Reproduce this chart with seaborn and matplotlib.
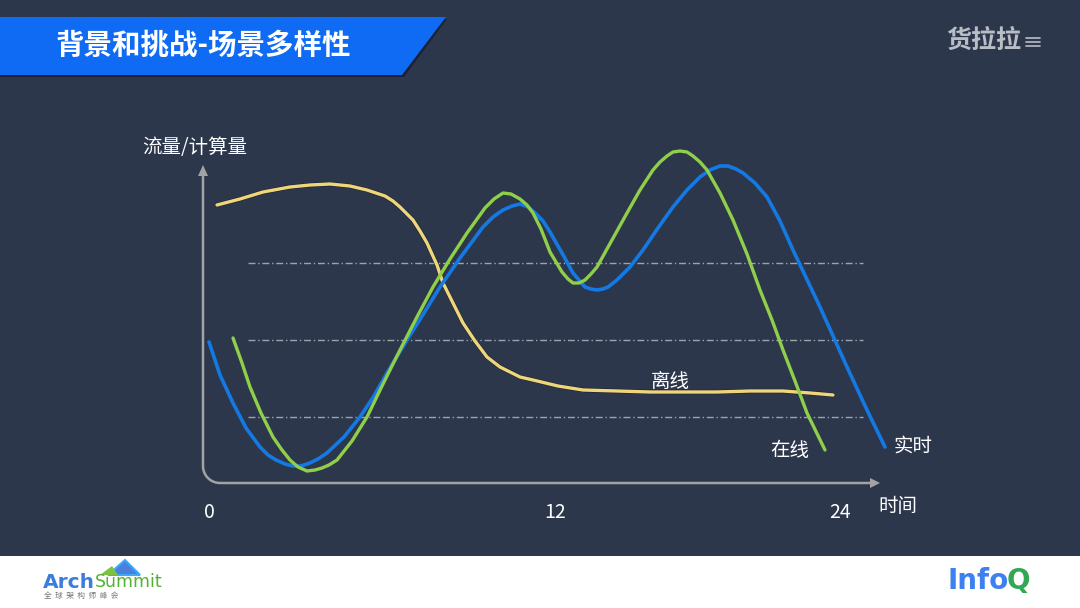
import numpy as np
import seaborn as sns
import matplotlib.pyplot as plt
from matplotlib.patches import Polygon, Rectangle

# 曲线数据 (画面坐标: x 向右, y 向下)
realtime_x = [209, 220, 233, 246, 260, 268, 276, 285, 293, 301, 310, 318, 327, 344, 360,
              374, 387, 407, 424, 440, 460, 483, 493, 503, 512, 520, 528, 535, 543, 550,
              562, 573, 585, 591, 597, 603, 608, 617, 630, 643, 658, 673, 687, 700, 710,
              720, 728, 736, 743, 755, 767, 780, 793, 820, 847, 867, 885]
realtime_y = [342, 375, 403, 428, 447, 455, 460, 464, 466, 466, 463, 459, 453, 437, 417,
              396, 373, 340, 313, 287, 258, 227, 217, 210, 206, 204, 207, 213, 221, 232,
              253, 273, 287, 289, 290, 289, 287, 280, 267, 250, 228, 207, 190, 177, 170,
              166, 166, 169, 173, 183, 197, 221, 250, 307, 367, 410, 447]

online_x = [233, 242, 250, 261, 273, 282, 290, 298, 307, 315, 322, 329, 337, 352, 367,
            383, 400, 417, 433, 450, 467, 485, 494, 503, 511, 520, 527, 533, 541, 550,
            562, 568, 573, 579, 585, 591, 597, 612, 627, 640, 653, 660, 667, 673, 680,
            687, 693, 700, 707, 720, 733, 747, 760, 772, 783, 795, 807, 825]
online_y = [338, 363, 387, 413, 437, 450, 460, 467, 471, 470, 468, 465, 460, 441, 417,
            384, 350, 317, 287, 259, 233, 208, 199, 193, 194, 199, 205, 213, 229, 252,
            272, 279, 283, 283, 280, 274, 267, 240, 213, 190, 170, 162, 156, 152, 151,
            152, 156, 162, 170, 193, 220, 254, 290, 320, 350, 381, 413, 450]

offline_x = [217, 240, 263, 290, 310, 330, 350, 367, 385, 393, 400, 406, 413, 420, 427,
             437, 443, 453, 463, 475, 487, 500, 520, 533, 558, 583, 617, 650, 683, 717,
             750, 783, 810, 833]
offline_y = [205, 199, 192, 187, 185, 184, 186, 190, 196, 201, 207, 213, 220, 231, 243,
             265, 283, 303, 323, 341, 357, 367, 377, 380, 386, 390, 391, 392, 392, 392,
             391, 391, 393, 395]

grid_levels = [263, 340, 417]
tick_labels = ["0", "12", "24"]
tick_x = [209, 555, 840]

BG = "#2d374c"
FONT = ["Noto Sans CJK SC", "DejaVu Sans"]


def set_config():
    sns.set_theme(style="white")
    plt.rcParams["font.family"] = FONT


def draw_frame(ax):
    # 标题栏
    ax.add_patch(Polygon([[0, 19], [447, 19], [404, 77], [0, 77]], closed=True,
                         facecolor="#1a2233", edgecolor="none", zorder=1))
    ax.add_patch(Polygon([[0, 17], [446, 17], [402, 75], [0, 75]], closed=True,
                         facecolor="#0f6bf3", edgecolor="none", zorder=2))
    ax.text(55, 46, "背景和挑战-场景多样性", color="white", fontsize=20.5,
            fontweight="bold", va="center", ha="left", zorder=3)

    # 右上角 logo
    ax.text(946, 42, "货拉拉", color="#b9bdc6", fontsize=18, fontweight="heavy",
            va="center", ha="left")
    for dy in (-4, 0, 4):
        ax.plot([1026, 1040], [42 + dy, 42 + dy], color="#b9bdc6", lw=1.2)

    # 底部白条
    ax.add_patch(Rectangle((0, 556), 1080, 52, facecolor="white", edgecolor="none"))
    ax.add_patch(Polygon([[108, 575], [125, 560], [140, 575]], closed=True,
                         facecolor="#4a7fe0", edgecolor="#3fa9f5", lw=1.5))
    ax.add_patch(Polygon([[100, 575], [112, 566], [118, 575]], closed=True,
                         facecolor="#7cc242", edgecolor="none"))
    ax.text(43, 582, "Arch", color="#3b7ddd", fontsize=14.5, fontweight="bold",
            va="center", ha="left", family="DejaVu Sans")
    ax.text(95, 582, "Summit", color="#52b332", fontsize=12.5,
            va="center", ha="left", family="DejaVu Sans")
    ax.text(44, 596, "全  球  架  构  师  峰  会", color="#777777", fontsize=5.5,
            va="center", ha="left")
    ax.text(947, 581, "Info", color="#3d80f0", fontsize=20, fontweight="bold",
            va="center", ha="left", family="DejaVu Sans")
    ax.text(1007, 581, "Q", color="#33a853", fontsize=20, fontweight="bold",
            va="center", ha="left", family="DejaVu Sans")


def draw_axes(ax):
    axis_color = "#a3a3a3"
    r = 17
    t = np.linspace(np.pi, 1.5 * np.pi, 20)
    arc_x = 203 + r + r * np.cos(t)
    arc_y = 483 - r - r * np.sin(t)
    xs = np.concatenate([[203], arc_x, [872]])
    ys = np.concatenate([[172], arc_y, [483]])
    ax.plot(xs, ys, color=axis_color, lw=1.8, zorder=2)
    ax.add_patch(Polygon([[198, 176], [208, 176], [203, 165]], closed=True,
                         facecolor=axis_color, edgecolor="none"))
    ax.add_patch(Polygon([[870, 478], [870, 488], [880, 483]], closed=True,
                         facecolor=axis_color, edgecolor="none"))
    ax.hlines(grid_levels, 248, 863, colors="#9da3ad", lw=1,
              linestyles=(0, (5, 2, 1, 2)), zorder=2)

    ax.text(142, 148, "流量/计算量", color="white", fontsize=14, va="center", ha="left")
    for x, lab in zip(tick_x, tick_labels):
        ax.text(x, 512, lab, color="white", fontsize=14, va="center", ha="center")
    ax.text(878, 507, "时间", color="white", fontsize=14, va="center", ha="left")


def draw_curves(ax):
    sns.lineplot(x=offline_x, y=offline_y, sort=False, color="#1c2230", lw=3.2,
                 ax=ax, zorder=3)
    sns.lineplot(x=offline_x, y=offline_y, sort=False, color="#efd67a", lw=2.4,
                 ax=ax, zorder=4)
    sns.lineplot(x=realtime_x, y=realtime_y, sort=False, color="#1479e3", lw=2.6,
                 ax=ax, zorder=5)
    sns.lineplot(x=online_x, y=online_y, sort=False, color="#8fcf4a", lw=2.4,
                 ax=ax, zorder=6)
    for line in ax.lines[-4:]:
        line.set_solid_joinstyle("round")
        line.set_solid_capstyle("round")

    ax.text(670, 381, "离线", color="white", fontsize=14, va="center", ha="center")
    ax.text(790, 451, "在线", color="white", fontsize=14, va="center", ha="center")
    ax.text(913, 446, "实时", color="white", fontsize=14, va="center", ha="center")


def main():
    set_config()
    fig = plt.figure(figsize=(10.8, 6.08), dpi=100, facecolor=BG)
    ax = fig.add_axes([0, 0, 1, 1])
    ax.set_facecolor(BG)
    ax.set_xlim(0, 1080)
    ax.set_ylim(608, 0)
    ax.axis("off")

    draw_frame(ax)
    draw_axes(ax)
    draw_curves(ax)

    fig.savefig("out.png", dpi=100, facecolor=BG)


if __name__ == "__main__":
    main()
